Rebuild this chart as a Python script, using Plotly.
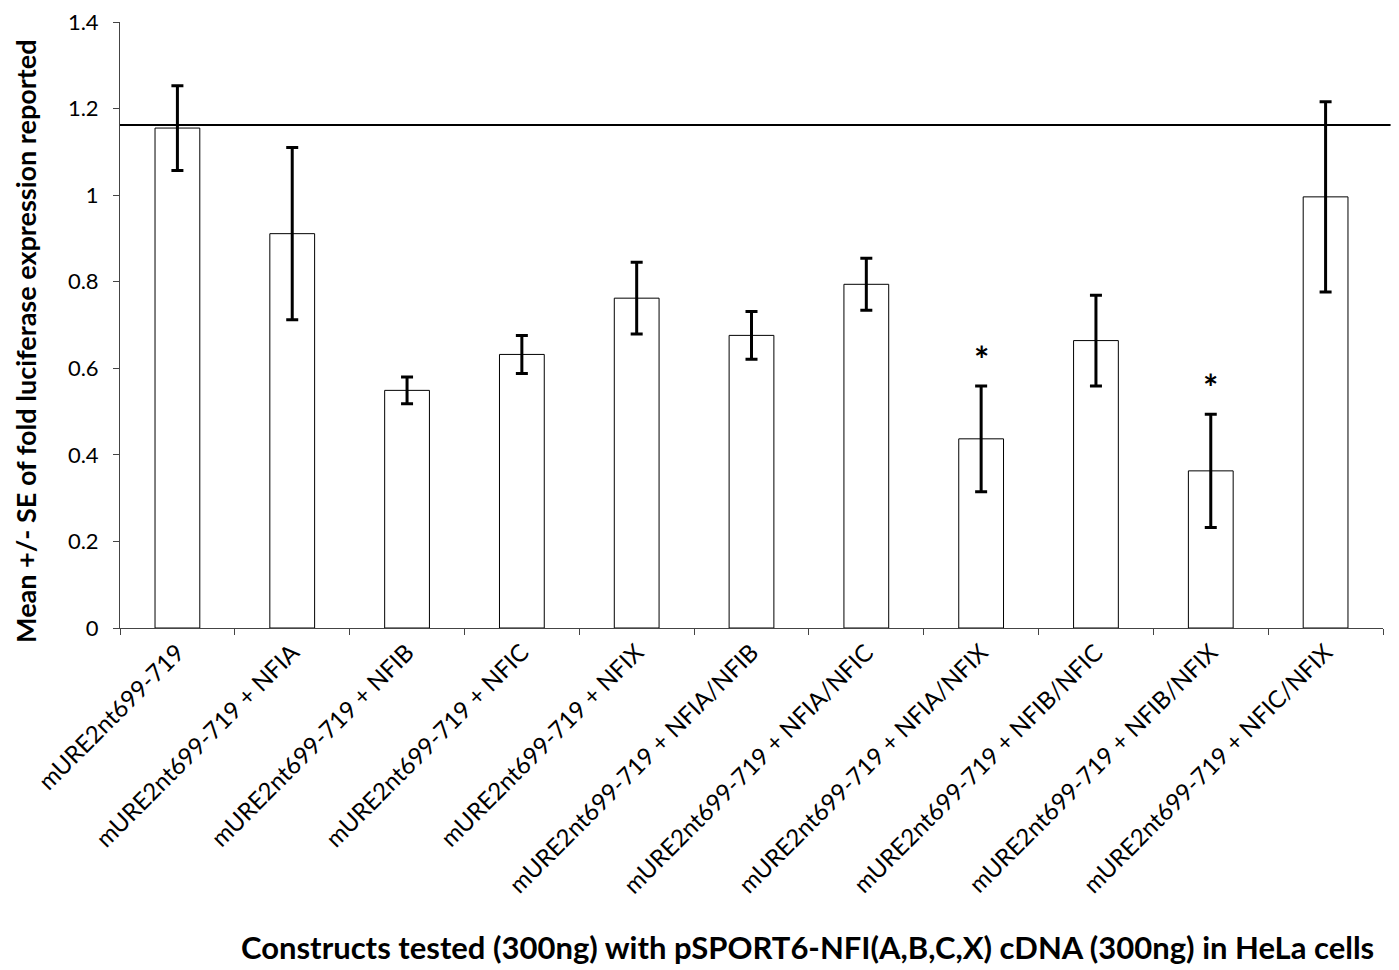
import plotly.graph_objects as go

categories = [
    "mURE2nt699-719",
    "mURE2nt699-719 + NFIA",
    "mURE2nt699-719 + NFIB",
    "mURE2nt699-719 + NFIC",
    "mURE2nt699-719 + NFIX",
    "mURE2nt699-719 + NFIA/NFIB",
    "mURE2nt699-719 + NFIA/NFIC",
    "mURE2nt699-719 + NFIA/NFIX",
    "mURE2nt699-719 + NFIB/NFIC",
    "mURE2nt699-719 + NFIB/NFIX",
    "mURE2nt699-719 + NFIC/NFIX",
]
means = [1.155, 0.911, 0.549, 0.632, 0.762, 0.676, 0.794, 0.437, 0.664, 0.363, 0.996]
se = [0.098, 0.199, 0.031, 0.044, 0.083, 0.055, 0.060, 0.122, 0.105, 0.131, 0.220]
significant = [False, False, False, False, False, False, False, True, False, True, False]
reference_level = 1.162

FONT = "Lato"

fig = go.Figure()
fig.add_trace(go.Bar(
    x=categories, y=means,
    marker=dict(color="white", line=dict(color="black", width=1)),
    error_y=dict(type="data", array=se, visible=True, color="black", thickness=3, width=6),
    width=0.39,
    showlegend=False,
))

for c, m, s, sig in zip(categories, means, se, significant):
    if sig:
        fig.add_annotation(x=c, y=m + s, text="<b>*</b>", showarrow=False,
                           yanchor="middle", yshift=27,
                           font=dict(family=FONT, size=36, color="black"))

fig.add_shape(type="line", xref="paper", yref="y", x0=0, x1=1.006,
              y0=reference_level, y1=reference_level,
              line=dict(color="black", width=2))

fig.add_annotation(xref="paper", yref="paper", x=-0.0748, y=0.473,
                   text="<b>Mean +/- SE of fold luciferase expression reported</b>",
                   textangle=-90, showarrow=False, xanchor="center", yanchor="middle",
                   font=dict(family=FONT, size=27, color="black"))
fig.add_annotation(xref="paper", yref="paper", x=0.544, y=-0.526,
                   text="<b>Constructs tested (300ng) with pSPORT6-NFI(A,B,C,X) cDNA (300ng) in HeLa cells</b>",
                   showarrow=False, xanchor="center", yanchor="middle",
                   font=dict(family=FONT, size=31, color="black"))

fig.update_layout(
    width=1391, height=962,
    margin=dict(l=112, r=16, t=14, b=342),
    plot_bgcolor="white", paper_bgcolor="white",
    font=dict(family=FONT, color="black"),
)
fig.update_xaxes(
    type="category", tickangle=-45, tickson="boundaries", automargin=False,
    ticks="outside", ticklen=6, tickcolor="#444",
    showline=True, linecolor="#444", linewidth=1,
    tickfont=dict(family=FONT, size=24, color="black"),
    ticklabeloverflow="allow",
    showgrid=False,
)
fig.update_yaxes(
    range=[0, 1.4], dtick=0.2, tick0=0, automargin=False,
    ticks="outside", ticklen=6, tickcolor="#444",
    showline=True, linecolor="#444", linewidth=1,
    tickfont=dict(family=FONT, size=22, color="black"),
    ticklabelstandoff=10, ticklabeloverflow="allow",
    showgrid=False, zeroline=False,
)

fig.write_html("out.html")
